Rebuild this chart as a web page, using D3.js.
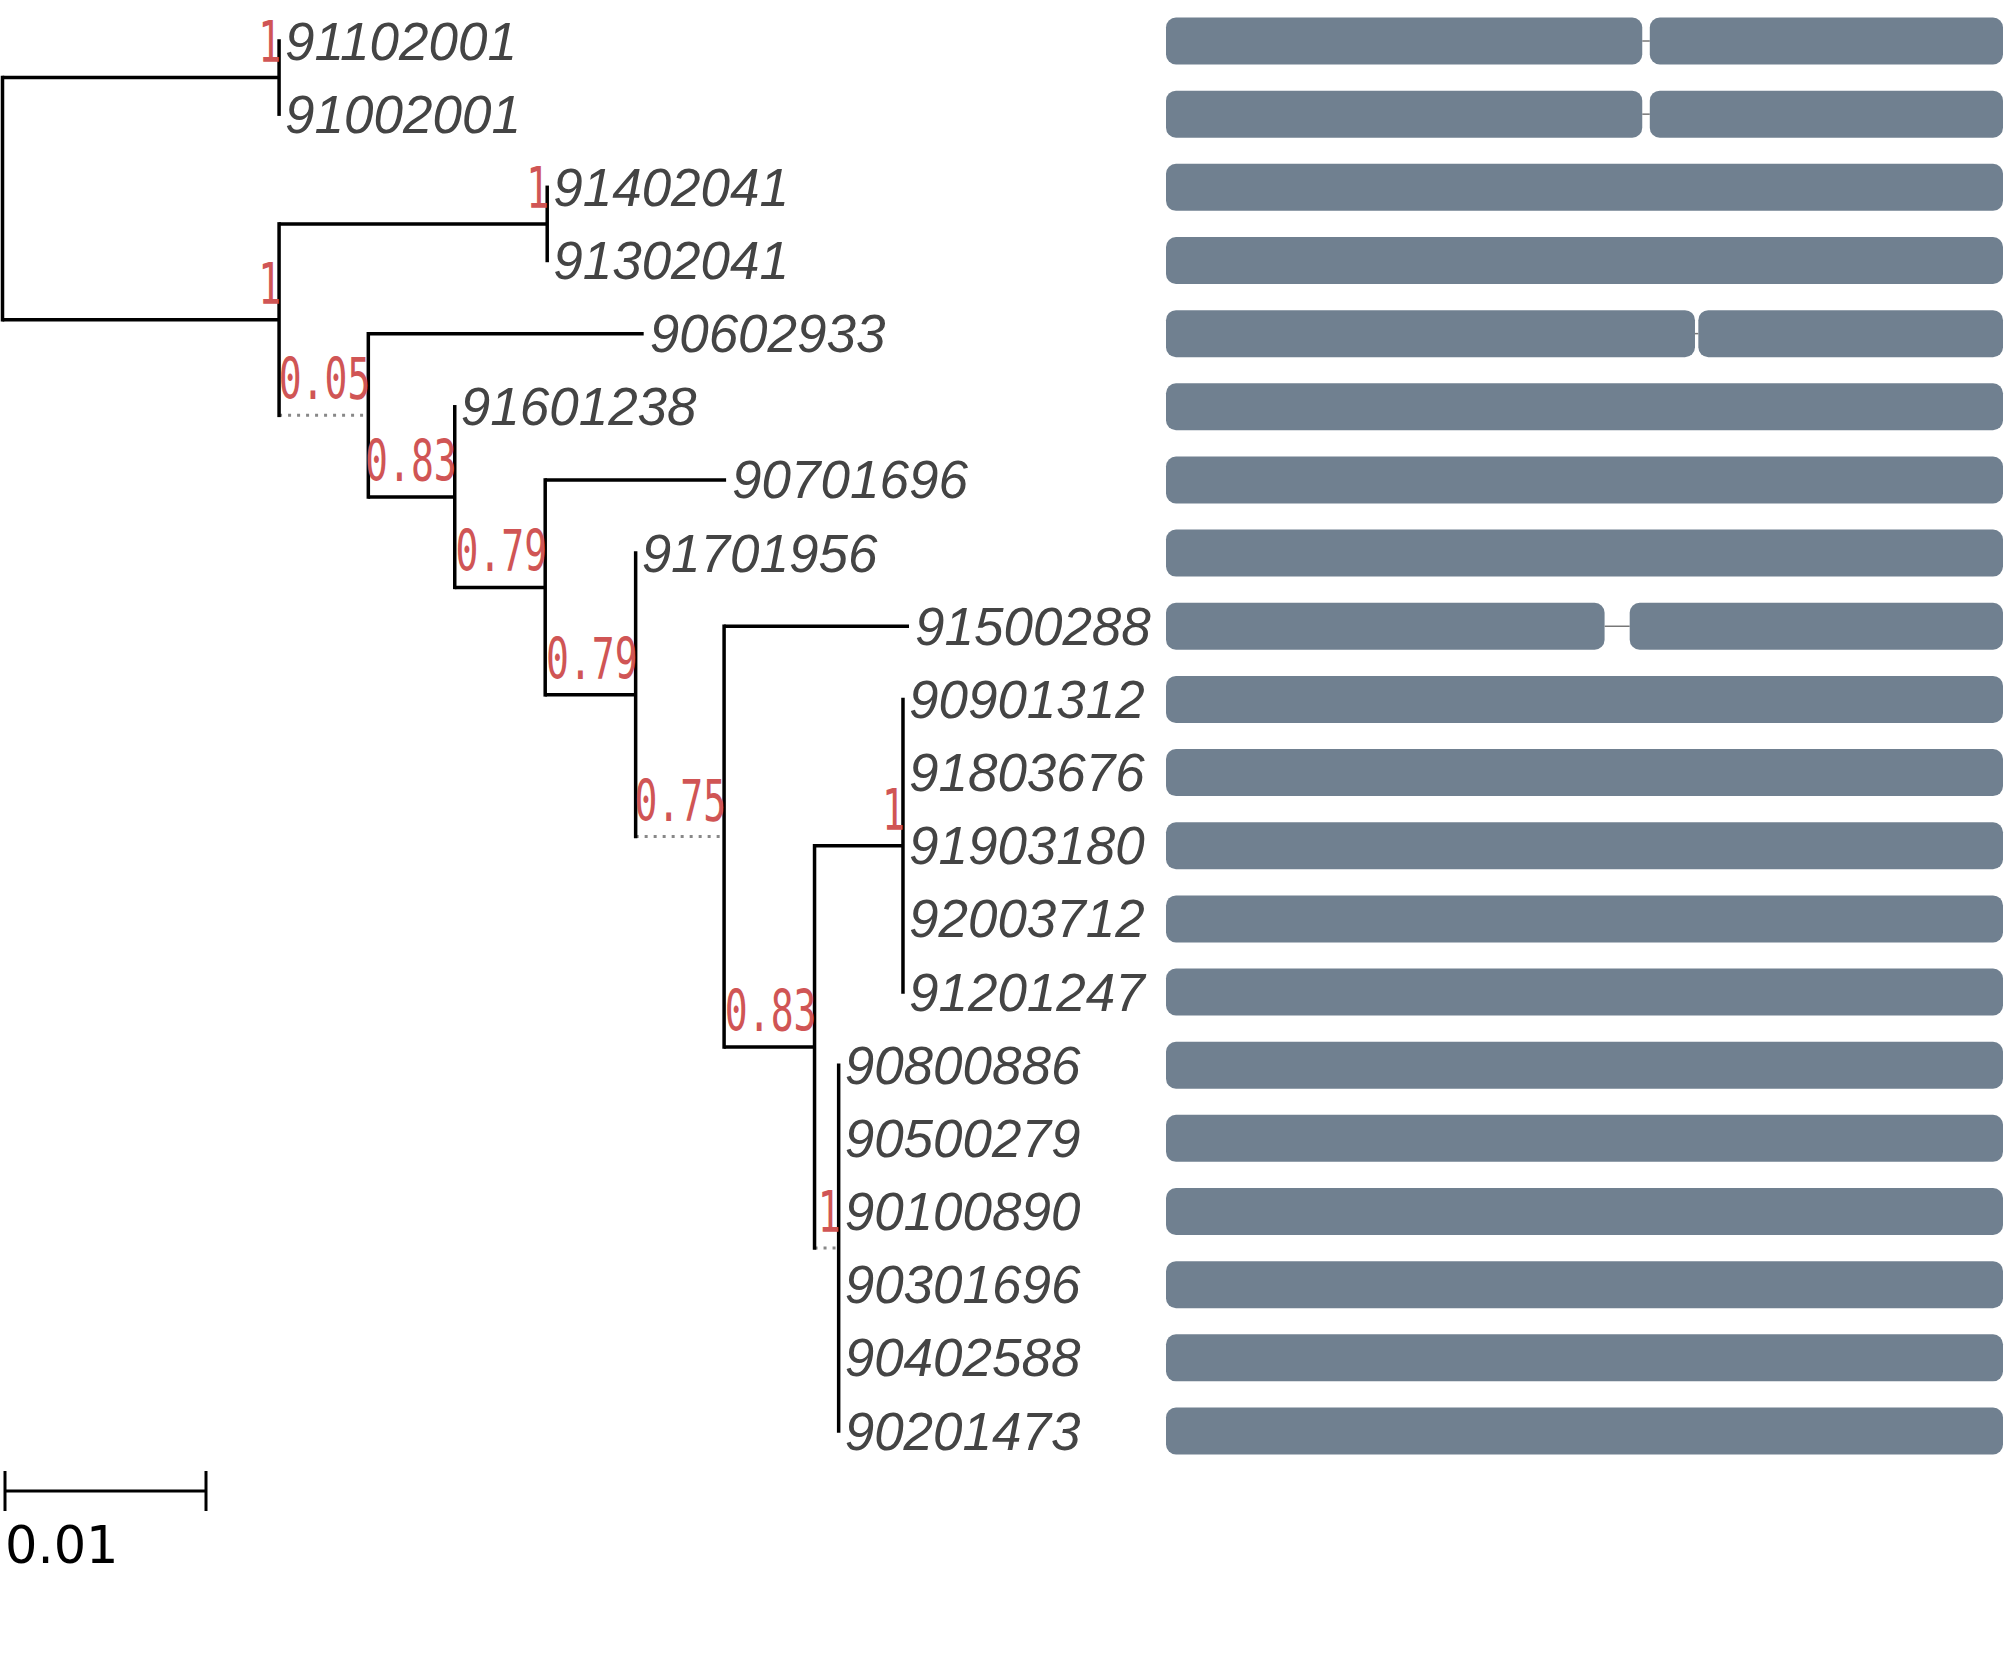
<!DOCTYPE html>
<html>
<head>
<meta charset="utf-8">
<script src="https://cdn.jsdelivr.net/npm/d3@7"></script>
<style>
  body { margin: 0; background: #fff; }
</style>
</head>
<body>
<div id="chart-area"></div>
<script>
// tree nodes: id, parent, depth from root (substitutions/site), support
var nodeIds   = ["root","A","91102001","91002001","B","C","91402041","91302041","D","90602933","E","91601238","F","90701696","G","91701956","H","91500288","I","J","90901312","91803676","91903180","92003712","91201247","K","90800886","90500279","90100890","90301696","90402588","90201473"];
var parentIds = ["","root","A","A","root","B","C","C","B","D","D","E","E","F","F","G","G","H","H","I","J","J","J","J","J","I","K","K","K","K","K","K"];
var depths    = [0,0.01376,0.01376,0.01376,0.01376,0.0271,0.0271,0.0271,0.0182,0.0319,0.0225,0.0225,0.0270,0.0360,0.0315,0.0315,0.0359,0.0451,0.0404,0.0448,0.0448,0.0448,0.0448,0.0448,0.0448,0.0416,0.0416,0.0416,0.0416,0.0416,0.0416,0.0416];
var supports  = ["","1","","","1","1","","","0.05","","0.83","","0.79","","0.79","","0.75","","0.83","1","","","","","","1","","","","","",""];
// branches drawn dotted
var dottedIds = ["D","H","K"];

// domain tracks: segments along the sequence (0-1000) per tip
var tipOrder = ["91102001","91002001","91402041","91302041","90602933","91601238","90701696","91701956","91500288","90901312","91803676","91903180","92003712","91201247","90800886","90500279","90100890","90301696","90402588","90201473"];
var segments = [
  [[0,569],[578,1000]], [[0,569],[578,1000]], [[0,1000]], [[0,1000]],
  [[0,632],[636,1000]], [[0,1000]], [[0,1000]], [[0,1000]],
  [[0,524],[554,1000]], [[0,1000]], [[0,1000]], [[0,1000]], [[0,1000]], [[0,1000]],
  [[0,1000]], [[0,1000]], [[0,1000]], [[0,1000]], [[0,1000]], [[0,1000]]
];
var scaleBarValue = 0.01;

var W = 2007, H = 1674;
var svg = d3.select("#chart-area").append("svg").attr("width", W).attr("height", H);

var x = d3.scaleLinear().domain([0, 0.01]).range([2.5, 203.5]);
var y = d3.scalePoint().domain(tipOrder).range([41, 1431]);
var seqX = d3.scaleLinear().domain([0, 1000]).range([1166, 2003]);

var table = nodeIds.map(function(id, i){
  return {id: id, parent: parentIds[i], depth: depths[i], support: supports[i]};
});
var root = d3.stratify().id(d => d.id).parentId(d => d.parent || null)(table);

// tips get row positions, internal nodes the mean of their children (like d3.cluster)
root.eachAfter(function(n){
  if (!n.children) n.py = y(n.data.id);
  else n.py = d3.mean(n.children, c => c.py);
  n.px = x(n.data.depth);
});

var g = svg.append("g");

// horizontal branches
root.descendants().filter(n => n.parent).forEach(function(n){
  var dotted = dottedIds.indexOf(n.data.id) >= 0;
  g.append("line")
    .attr("x1", n.parent.px).attr("x2", n.px)
    .attr("y1", n.py).attr("y2", n.py)
    .attr("stroke", dotted ? "#888" : "#000")
    .attr("stroke-width", dotted ? 3 : 3.5)
    .attr("stroke-dasharray", dotted ? "3,6" : null);
});
// vertical connectors
root.descendants().filter(n => n.children).forEach(function(n){
  var ys = n.children.map(c => c.py);
  g.append("line")
    .attr("x1", n.px).attr("x2", n.px)
    .attr("y1", d3.min(ys) - 1.75).attr("y2", d3.max(ys) + 1.75)
    .attr("stroke", "#000").attr("stroke-width", 3.5);
});

// tip labels
root.leaves().forEach(function(n){
  g.append("text")
    .attr("x", n.px + 6).attr("y", n.py)
    .attr("dominant-baseline", "central")
    .attr("font-family", "Liberation Sans, Arial, sans-serif")
    .attr("font-style", "italic")
    .attr("font-size", 53)
    .attr("fill", "#444")
    .text(n.data.id);
});

// support labels
root.descendants().filter(n => n.data.support !== "").forEach(function(n){
  g.append("text")
    .attr("transform", "translate(" + (n.px + 2) + "," + (n.py - 16) + ") scale(0.68,1)")
    .attr("text-anchor", "end")
    .attr("font-family", "DejaVu Sans Mono, monospace")
    .attr("font-size", 56)
    .attr("fill", "#d05555")
    .text(n.data.support);
});

// domain bars
var rows = svg.append("g").selectAll("g").data(tipOrder).enter().append("g");
rows.each(function(tip, i){
  var r = d3.select(this);
  var segs = segments[i];
  var cy = y(tip);
  if (segs.length > 1) {
    r.append("line")
      .attr("x1", seqX(segs[0][1])).attr("x2", seqX(segs[segs.length-1][0]))
      .attr("y1", cy).attr("y2", cy)
      .attr("stroke", "#777").attr("stroke-width", 1.5);
  }
  r.selectAll("rect").data(segs).enter().append("rect")
    .attr("x", d => seqX(d[0]))
    .attr("width", d => seqX(d[1]) - seqX(d[0]))
    .attr("y", cy - 23.5).attr("height", 47)
    .attr("rx", 10).attr("ry", 10)
    .attr("fill", "#708090");
});

// scale bar
var sb = svg.append("g").attr("transform", "translate(0,1491)");
var sx0 = 5, sx1 = 5 + (x(scaleBarValue) - x(0));
sb.append("line").attr("x1", sx0).attr("x2", sx1).attr("y1", 0).attr("y2", 0).attr("stroke", "#000").attr("stroke-width", 3);
[sx0, sx1].forEach(function(v){
  sb.append("line").attr("x1", v).attr("x2", v).attr("y1", -20).attr("y2", 20).attr("stroke", "#000").attr("stroke-width", 3);
});
sb.append("text").attr("x", 5).attr("y", 72)
  .attr("font-family", "DejaVu Sans, sans-serif").attr("font-size", 51)
  .attr("fill", "#000").text(d3.format(".2f")(scaleBarValue));
</script>
</body>
</html>
